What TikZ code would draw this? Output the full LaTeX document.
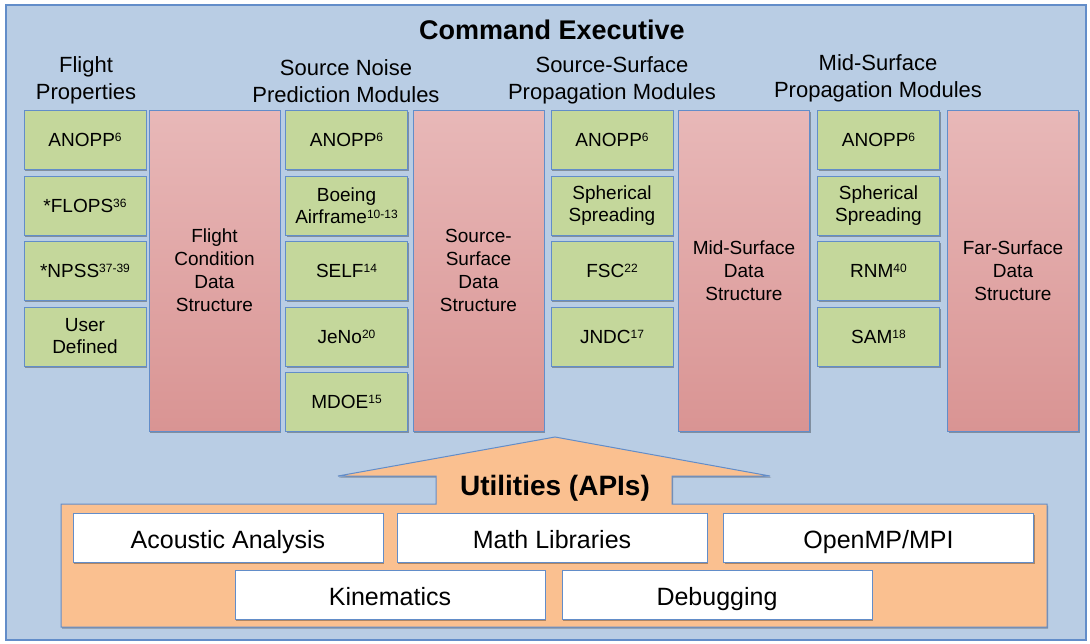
\documentclass[tikz,border=0pt]{standalone}
\usepackage{fontspec}
\setmainfont{Liberation Sans}
\usetikzlibrary{shadows}

\definecolor{bgblue}{RGB}{185,205,228}
\definecolor{edgeblue}{RGB}{98,141,201}
\definecolor{modgreen}{RGB}{196,215,155}
\definecolor{dstop}{RGB}{232,184,184}
\definecolor{dsbot}{RGB}{217,148,147}
\definecolor{utilorange}{RGB}{250,192,144}

% superscript reference numbers
\newcommand{\rf}[1]{\raisebox{5pt}{\fontsize{12}{12}\selectfont #1}}

\tikzset{
  boxshadow/.style={drop shadow={shadow xshift=1.2pt,shadow yshift=-1.5pt,opacity=0.3,fill=black}},
  module/.style={draw=edgeblue,fill=modgreen,line width=1pt,minimum width=122pt,minimum height=59pt,
    inner sep=1pt,align=center,font=\fontsize{19}{22}\selectfont,boxshadow},
  datastruct/.style={draw=edgeblue,top color=dstop,bottom color=dsbot,line width=1pt,
    minimum width=131pt,minimum height=321pt,align=center,font=\fontsize{19}{23}\selectfont,boxshadow},
  header/.style={align=center,font=\fontsize{22}{27}\selectfont},
  api/.style={draw=edgeblue,fill=white,line width=1pt,minimum width=310pt,minimum height=49pt,
    text height=22pt,text depth=1pt,font=\fontsize{25}{25}\selectfont,boxshadow}
}

\begin{document}
\begin{tikzpicture}[x=1pt,y=-1pt]
  \useasboundingbox (0,0) rectangle (1090,643);
  % Bakgrund
  \draw[edgeblue,line width=1.5pt,fill=bgblue] (6,5) rectangle (1086,640);
  \node[font=\bfseries\fontsize{27}{27}\selectfont] (title) at (552,30) {Command Executive};

  % Rubriker
  \node[header] (hflight) at (86,80) {Flight\\Properties};
  \node[header] (hsource) at (346,81) {Source Noise\\Prediction Modules};
  \node[header] (hsurf) at (612,80) {Source-Surface\\Propagation Modules};
  \node[header] (hmid) at (878,78.5) {Mid-Surface\\Propagation Modules};

  % Moduler
  \foreach \txt [count=\i] in {ANOPP\rf{6}, *FLOPS\rf{36}, *NPSS\rf{37-39}, User\\Defined}
    \node[module] (fp\i) at (85,{140+65.5*(\i-1)}) {\txt};
  \foreach \txt [count=\i] in {ANOPP\rf{6}, Boeing\\Airframe\rf{10-13}, SELF\rf{14}, JeNo\rf{20}, MDOE\rf{15}}
    \node[module] (sn\i) at (346.5,{140+65.5*(\i-1)}) {\txt};
  \foreach \txt [count=\i] in {ANOPP\rf{6}, Spherical\\Spreading, FSC\rf{22}, JNDC\rf{17}}
    \node[module] (ss\i) at (612,{140+65.5*(\i-1)}) {\txt};
  \foreach \txt [count=\i] in {ANOPP\rf{6}, Spherical\\Spreading, RNM\rf{40}, SAM\rf{18}}
    \node[module] (ms\i) at (878.5,{140+65.5*(\i-1)}) {\txt};

  % Datastrukturer
  \node[datastruct] (dflight) at (214.5,270.5) {Flight\\Condition\\Data\\Structure};
  \node[datastruct] (dsource) at (478.5,270.5) {Source-\\Surface\\Data\\Structure};
  \node[datastruct] (dmid) at (744,270.5) {Mid-Surface\\Data\\Structure};
  \node[datastruct] (dfar) at (1013,270.5) {Far-Surface\\Data\\Structure};

  % Utilities
  \draw[edgeblue,line width=1pt,fill=utilorange,boxshadow]
    (61,504) -- (436,504) -- (436,476) -- (338,476) -- (555,437) -- (770,476)
    -- (672,476) -- (672,504) -- (1047,504) -- (1047,627) -- (61,627) -- cycle;
  \node[font=\bfseries\fontsize{28}{28}\selectfont] (util) at (555,488) {Utilities (APIs)};
  \node[api] (acoustic) at (228,537.5) {Acoustic Analysis};
  \node[api] (math) at (552,537.5) {Math Libraries};
  \node[api] (mpi) at (878.5,537.5) {OpenMP/MPI};
  \node[api] (kin) at (390,595) {Kinematics};
  \node[api] (debug) at (717,595) {Debugging};
\end{tikzpicture}
\end{document}
